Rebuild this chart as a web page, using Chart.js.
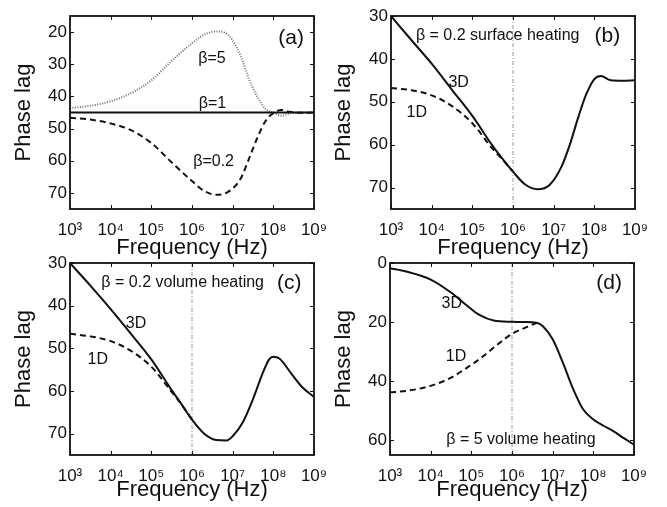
<!DOCTYPE html>
<html>
<head>
<meta charset="utf-8">
<script src="https://cdn.jsdelivr.net/npm/chart.js@4.4.1/dist/chart.umd.min.js"></script>
<style>
  body { margin: 0; background: #fff; width: 667px; height: 507px; position: relative; overflow: hidden; }
  canvas { position: absolute; }
</style>
</head>
<body>
<canvas id="pa" width="330" height="262" style="left:0;top:0"></canvas>
<canvas id="pb" width="337" height="262" style="left:330px;top:0"></canvas>
<canvas id="pc" width="330" height="257" style="left:0;top:250px"></canvas>
<canvas id="pd" width="337" height="257" style="left:330px;top:250px"></canvas>
<script>
// shared x axis
const decadeTicks = [1e3, 1e4, 1e5, 1e6, 1e7, 1e8, 1e9];
const decadeLabels = ["10³", "10⁴", "10⁵", "10⁶", "10⁷", "10⁸", "10⁹"];
const markFreq = [1e6, 1e6];

// (a) 1D phase lag for three beta values
const freqA = [1e3, 3.16e3, 1e4, 3.16e4, 1e5, 3.16e5, 1e6, 2e6, 4e6, 7.9e6, 1.58e7, 2.5e7, 4e7, 6.3e7, 1e8, 1.58e8, 2.5e8, 5e8, 1e9];
const beta5A = [43.6, 42.9, 41.5, 39, 35, 29, 23.5, 20.8, 19.8, 21, 27.5, 34.5, 40, 43.8, 45.1, 46, 45.3, 45, 45];
const beta02A = [46.6, 47.2, 48.4, 50.5, 54.5, 60.5, 66.3, 69.4, 70.6, 69.6, 65.5, 59.5, 53, 47.8, 45.2, 44.2, 44.8, 45.1, 45];
const freqLine = [1e3, 1e9];
const beta1A = [45, 45];
const yTicksA = [20, 30, 40, 50, 60, 70];
const yRangeA = [15, 75];

// (b) beta = 0.2 surface heating
const freqB = [1e3, 3.16e3, 1e4, 3.16e4, 1e5, 3.16e5, 5e5, 1e6, 2e6, 4e6, 7.9e6, 1.58e7, 2.5e7, 4e7, 6.3e7, 1e8, 1.45e8, 2.5e8, 5e8, 1e9];
const surf3D = [30, 35.6, 41.1, 47.2, 53.3, 60.3, 62.8, 66.3, 69.3, 70.4, 69.4, 65, 60, 53.7, 48.3, 44.7, 44, 45, 45.1, 45];
const freq1D = [1e3, 3.16e3, 1e4, 3.16e4, 1e5, 3.16e5, 5e5, 1e6];
const surf1D = [46.8, 47.3, 48.5, 51, 55, 61, 63, 66.3];
const yTicksBC = [30, 40, 50, 60, 70];
const yRangeBC = [30, 75];

// (c) beta = 0.2 volume heating
const freqC = [1e3, 3.16e3, 1e4, 3.16e4, 1e5, 3.16e5, 5e5, 1e6, 2e6, 4e6, 7.1e6, 1e7, 1.78e7, 3.16e7, 5.6e7, 7.9e7, 1e8, 1.41e8, 2.8e8, 5e8, 1e9];
const vol3D = [30, 35.3, 40.8, 46.6, 52.6, 59.8, 62.5, 66.7, 70, 71.5, 71.6, 70.6, 67.3, 61.9, 55.6, 52.6, 52, 52.4, 56, 59, 61.4];
const vol1D = [46.6, 47.2, 48.3, 50.6, 54.3, 60.2, 62.6, 66.7];

// (d) beta = 5 volume heating
const freqD = [1e3, 2.5e3, 1e4, 3.16e4, 7.9e4, 1.58e5, 3.55e5, 1e6, 2e6, 4e6, 5.75e6, 1e7, 1.78e7, 3.16e7, 5.6e7, 1e8, 1.78e8, 3.16e8, 5.6e8, 1e9];
const vol3D5 = [1.8, 2.9, 5.6, 10, 14.5, 17.6, 19.5, 19.9, 20, 20.2, 21.4, 25.8, 33.7, 42.5, 49.5, 53, 55.1, 57, 59.3, 61.5];
const freqD1 = [1e3, 2.5e3, 1e4, 3.16e4, 7.9e4, 1.78e5, 4.5e5, 1e6, 2.2e6, 4e6];
const vol1D5 = [43.8, 43.3, 41.6, 38.8, 35.4, 32, 27.5, 24, 21.8, 20.3];
const yTicksD = [0, 20, 40, 60];
const yRangeD = [0, 65];

const FONT = "'Liberation Sans', Arial, sans-serif";
const pts = (xs, ys) => xs.map((x, i) => ({ x: x, y: ys[i] }));

const solid = (xs, ys) => ({ data: pts(xs, ys), borderColor: "#111", borderWidth: 2 });
const dashed = (xs, ys) => ({ data: pts(xs, ys), borderColor: "#111", borderWidth: 2, borderDash: [6, 4] });
const dotted = (xs, ys) => ({ data: pts(xs, ys), borderColor: "#707070", borderWidth: 2, borderDash: [1, 1.5] });
const marker = (range) => ({ data: pts(markFreq, range), borderColor: "#999", borderWidth: 1, borderDash: [4, 2, 1, 2], cubicInterpolationMode: "default", tension: 0 });

// box, inward ticks and text labels
const framePlugin = {
  id: "frame",
  afterDatasetsDraw(chart, args, opts) {
    const { ctx, chartArea: a, scales: { x, y } } = chart;
    ctx.save();
    ctx.strokeStyle = "#111";
    ctx.lineWidth = 1;
    x.ticks.forEach(t => {
      const px = Math.round(x.getPixelForValue(t.value)) + 0.5;
      ctx.beginPath();
      ctx.moveTo(px, a.bottom); ctx.lineTo(px, a.bottom - 4);
      ctx.moveTo(px, a.top); ctx.lineTo(px, a.top + 4);
      ctx.stroke();
    });
    y.ticks.forEach(t => {
      const py = Math.round(y.getPixelForValue(t.value)) + 0.5;
      ctx.beginPath();
      ctx.moveTo(a.left, py); ctx.lineTo(a.left + 4, py);
      ctx.moveTo(a.right, py); ctx.lineTo(a.right - 4, py);
      ctx.stroke();
    });
    ctx.lineWidth = 1.8;
    ctx.strokeRect(a.left, a.top, a.right - a.left, a.bottom - a.top);
    ctx.fillStyle = "#111";
    ctx.textBaseline = "middle";
    (opts.notes || []).forEach(n => {
      ctx.font = (n.size || 16) + "px " + FONT;
      ctx.textAlign = n.align || "center";
      ctx.fillText(n.text, x.getPixelForValue(n.x), y.getPixelForValue(n.y));
    });
    ctx.restore();
  }
};

function panel(id, cfg) {
  new Chart(document.getElementById(id), {
    type: "line",
    data: { datasets: cfg.sets },
    options: {
      responsive: false,
      animation: false,
      events: [],
      layout: { padding: { top: cfg.area.top, right: cfg.w - cfg.area.right, left: 0, bottom: 0 } },
      elements: {
        point: { radius: 0 },
        line: { cubicInterpolationMode: "monotone", fill: false }
      },
      plugins: {
        legend: { display: false },
        tooltip: { enabled: false },
        frame: { notes: cfg.notes }
      },
      scales: {
        x: {
          type: "logarithmic",
          min: 1e3,
          max: 1e9,
          afterBuildTicks: s => { s.ticks = decadeTicks.map(v => ({ value: v })); },
          afterFit: s => {
            s.height = cfg.h - cfg.area.bottom;
            s.paddingLeft = 0;
            s.paddingRight = 0;
          },
          grid: { display: false, drawTicks: false, tickLength: 0 },
          border: { display: false },
          ticks: {
            callback: (v, i) => decadeLabels[i],
            font: { family: FONT, size: 17 },
            color: "#111",
            padding: 11,
            maxRotation: 0,
            autoSkip: false
          },
          title: {
            display: true,
            text: "Frequency (Hz)",
            font: { family: FONT, size: 22 },
            color: "#111",
            padding: { top: 0, bottom: cfg.xtPad }
          }
        },
        y: {
          type: "linear",
          reverse: true,
          min: cfg.yRange[0],
          max: cfg.yRange[1],
          afterBuildTicks: s => { s.ticks = cfg.yTicks.map(v => ({ value: v })); },
          afterFit: s => {
            s.width = cfg.area.left;
            s.paddingTop = 0;
            s.paddingBottom = 0;
          },
          grid: { display: false, drawTicks: false, tickLength: 0 },
          border: { display: false },
          ticks: { font: { family: FONT, size: 17 }, color: "#111", padding: 3 },
          title: {
            display: true,
            text: "Phase lag",
            font: { family: FONT, size: 22 },
            color: "#111",
            padding: { top: cfg.ytPad, bottom: 0 }
          }
        }
      }
    },
    plugins: [framePlugin]
  });
}

panel("pa", {
  w: 330, h: 262, area: { left: 70, top: 16, right: 314, bottom: 209 },
  xtPad: 1, ytPad: 11, yRange: yRangeA, yTicks: yTicksA,
  sets: [solid(freqLine, beta1A), dashed(freqA, beta02A), dotted(freqA, beta5A)],
  notes: [
    { text: "β=5", x: 3.1e6, y: 28.2 },
    { text: "β=1", x: 3.2e6, y: 42.3 },
    { text: "β=0.2", x: 3.4e6, y: 60.2 },
    { text: "(a)", x: 2.75e8, y: 21.8, size: 21 }
  ]
});

panel("pb", {
  w: 337, h: 262, area: { left: 61, top: 16, right: 305, bottom: 209 },
  xtPad: 1, ytPad: 1, yRange: yRangeBC, yTicks: yTicksBC,
  sets: [solid(freqB, surf3D), dashed(freq1D, surf1D), marker(yRangeBC)],
  notes: [
    { text: "β = 0.2 surface heating", x: 4.2e5, y: 34.6 },
    { text: "(b)", x: 2.1e8, y: 34.7, size: 21 },
    { text: "3D", x: 4.6e4, y: 45.5 },
    { text: "1D", x: 4.3e3, y: 52.5 }
  ]
});

panel("pc", {
  w: 330, h: 257, area: { left: 70, top: 13, right: 314, bottom: 205 },
  xtPad: 4, ytPad: 11, yRange: yRangeBC, yTicks: yTicksBC,
  sets: [solid(freqC, vol3D), dashed(freq1D, vol1D), marker(yRangeBC)],
  notes: [
    { text: "β = 0.2 volume heating", x: 5.9e5, y: 34.5 },
    { text: "(c)", x: 2.45e8, y: 34.7, size: 21 },
    { text: "3D", x: 4.2e4, y: 44.2 },
    { text: "1D", x: 4.8e3, y: 52.7 }
  ]
});

panel("pd", {
  w: 337, h: 257, area: { left: 60, top: 13, right: 304, bottom: 205 },
  xtPad: 4, ytPad: 1, yRange: yRangeD, yTicks: yTicksD,
  sets: [solid(freqD, vol3D5), dashed(freqD1, vol1D5), marker(yRangeD)],
  notes: [
    { text: "(d)", x: 2.45e8, y: 7, size: 21 },
    { text: "3D", x: 3.3e4, y: 13.6 },
    { text: "1D", x: 4.2e4, y: 31.7 },
    { text: "β = 5 volume heating", x: 1.66e6, y: 59.7 }
  ]
});
</script>
</body>
</html>
